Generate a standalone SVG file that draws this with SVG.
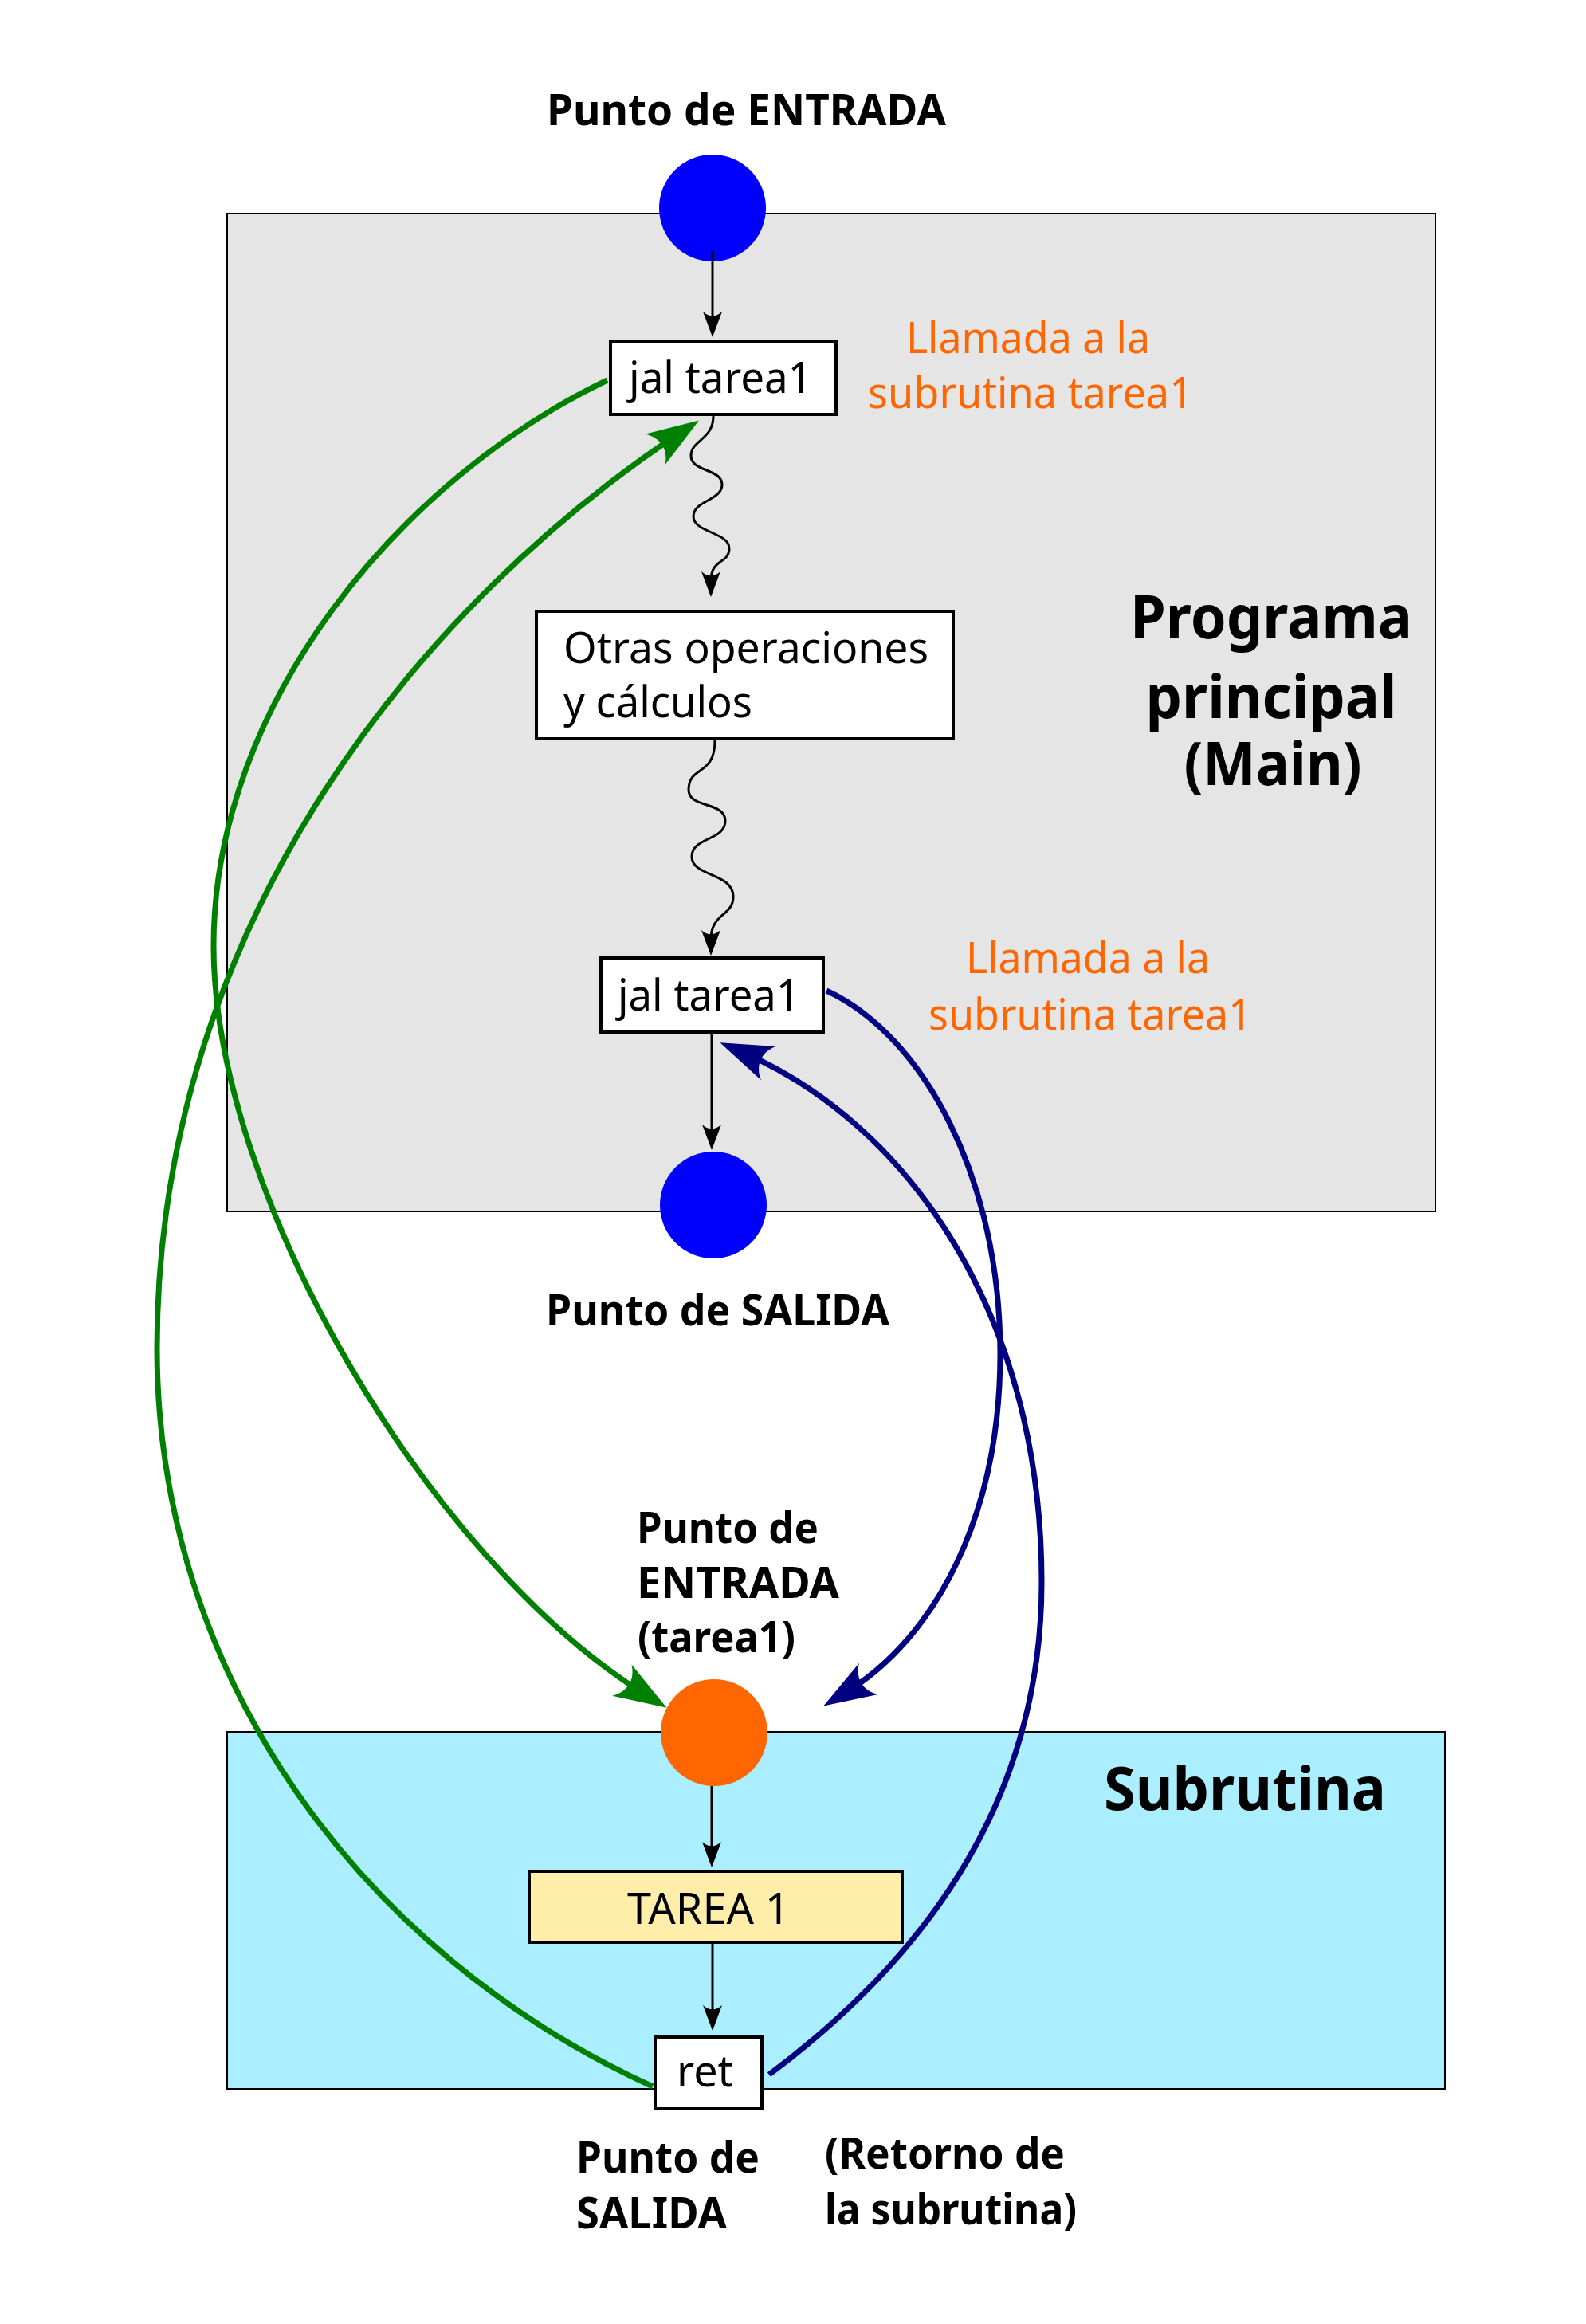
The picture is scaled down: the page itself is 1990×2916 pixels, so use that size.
<svg xmlns="http://www.w3.org/2000/svg" width="1990" height="2916" viewBox="0 0 1990 2916">
<style>
.t{font-family:"Noto Sans","Open Sans","DejaVu Sans",sans-serif;font-size:54px;fill:#000}
.b{font-weight:bold}
.o{fill:#ff6600}
.big{font-size:76px;font-weight:bold}
.box{stroke:#000;stroke-width:4}
.k{fill:none;stroke:#000;stroke-width:3}
.g{fill:none;stroke:#008000;stroke-width:7}
.n{fill:none;stroke:#000080;stroke-width:7}
</style>
<defs>
<marker id="ak" markerUnits="userSpaceOnUse" orient="auto" refX="0" refY="0" markerWidth="60" markerHeight="60" overflow="visible">
<path d="M20 0 L-12 -12 C-5 -5 -5 5 -12 12 Z" fill="#000"/>
</marker>
<marker id="ag" markerUnits="userSpaceOnUse" orient="auto" refX="0" refY="0" markerWidth="120" markerHeight="120" overflow="visible">
<path d="M30 0 L-36 -23 C-22 -9 -22 9 -36 23 Z" fill="#008000"/>
</marker>
<marker id="an" markerUnits="userSpaceOnUse" orient="auto" refX="0" refY="0" markerWidth="120" markerHeight="120" overflow="visible">
<path d="M30 0 L-36 -23 C-22 -9 -22 9 -36 23 Z" fill="#000080"/>
</marker>
</defs>
<g id="main-area">
<rect x="285" y="268" width="1516" height="1252" fill="#e5e5e5" stroke="#000" stroke-width="2"/>
<text class="t big" x="1595" y="801" text-anchor="middle" textLength="354" lengthAdjust="spacingAndGlyphs">Programa</text>
<text class="t big" x="1595" y="901" text-anchor="middle" textLength="315" lengthAdjust="spacingAndGlyphs">principal</text>
<text class="t big" x="1597" y="985" text-anchor="middle" textLength="223" lengthAdjust="spacingAndGlyphs">(Main)</text>
</g>
<g id="sub-area">
<rect x="285" y="2173" width="1528" height="448" fill="#aaeeff" stroke="#000" stroke-width="2"/>
<text class="t big" x="1385" y="2271" textLength="354" lengthAdjust="spacingAndGlyphs">Subrutina</text>
</g>
<g id="entry">
<text class="t b" x="686" y="157" textLength="501" lengthAdjust="spacingAndGlyphs">Punto de ENTRADA</text>
<circle cx="894" cy="261" r="67" fill="#0000ff"/>
</g>
<g id="jal1">
<rect class="box" x="766" y="428" width="283" height="92" fill="#fff"/>
<text class="t" x="789" y="493" textLength="230" lengthAdjust="spacingAndGlyphs">jal tarea1</text>
<text class="t o" x="1137" y="443" textLength="306" lengthAdjust="spacingAndGlyphs">Llamada a la</text>
<text class="t o" x="1089" y="512" textLength="408" lengthAdjust="spacingAndGlyphs">subrutina tarea1</text>
</g>
<g id="otras">
<rect class="box" x="673" y="767" width="523" height="160" fill="#fff"/>
<text class="t" x="707" y="832" textLength="458" lengthAdjust="spacingAndGlyphs">Otras operaciones</text>
<text class="t" x="707" y="900" textLength="237" lengthAdjust="spacingAndGlyphs">y cálculos</text>
</g>
<g id="jal2">
<rect class="box" x="754" y="1202" width="279" height="93" fill="#fff"/>
<text class="t" x="775" y="1268" textLength="229" lengthAdjust="spacingAndGlyphs">jal tarea1</text>
<text class="t o" x="1212" y="1221" textLength="306" lengthAdjust="spacingAndGlyphs">Llamada a la</text>
<text class="t o" x="1165" y="1292" textLength="406" lengthAdjust="spacingAndGlyphs">subrutina tarea1</text>
</g>
<g id="exit">
<circle cx="895" cy="1512" r="67" fill="#0000ff"/>
<text class="t b" x="685" y="1663" textLength="431" lengthAdjust="spacingAndGlyphs">Punto de SALIDA</text>
</g>
<g id="sub-entry">
<text class="t b" x="799" y="1936" textLength="228" lengthAdjust="spacingAndGlyphs">Punto de</text>
<text class="t b" x="799" y="2005" textLength="254" lengthAdjust="spacingAndGlyphs">ENTRADA</text>
<text class="t b" x="800" y="2073" textLength="198" lengthAdjust="spacingAndGlyphs">(tarea1)</text>
<circle cx="896" cy="2174" r="67" fill="#ff6600"/>
</g>
<g id="tarea">
<rect class="box" x="664" y="2348" width="468" height="89" fill="#ffeeaa"/>
<text class="t" x="787" y="2414" textLength="204" lengthAdjust="spacingAndGlyphs">TAREA 1</text>
</g>
<g id="ret">
<rect class="box" x="822" y="2556" width="134" height="90" fill="#fff"/>
<text class="t" x="849" y="2618" textLength="71" lengthAdjust="spacingAndGlyphs">ret</text>
<text class="t b" x="723" y="2726" textLength="230" lengthAdjust="spacingAndGlyphs">Punto de</text>
<text class="t b" x="723" y="2796" textLength="189" lengthAdjust="spacingAndGlyphs">SALIDA</text>
<text class="t b" x="1035" y="2721" textLength="301" lengthAdjust="spacingAndGlyphs">(Retorno de</text>
<text class="t b" x="1035" y="2791" textLength="316" lengthAdjust="spacingAndGlyphs">la subrutina)</text>
</g>
<g id="connectors">
<path class="k" d="M894 315 L894 403" marker-end="url(#ak)"/>
<path class="k" d="M895 522 C895 552 867 552 867 572 C867 592 906 588 906 608 C906 628 870 628 870 648 C870 668 915 668 915 688 C915 708 892 700 892 729" marker-end="url(#ak)"/>
<path class="k" d="M897 929 C897 975 864 960 864 991 C864 1015 910 1005 910 1030 C910 1055 868 1050 868 1075 C868 1100 920 1095 920 1125 C920 1150 892 1145 892 1179" marker-end="url(#ak)"/>
<path class="k" d="M893 1297 L893 1423" marker-end="url(#ak)"/>
<path class="k" d="M893 2241 L893 2323" marker-end="url(#ak)"/>
<path class="k" d="M894 2439 L894 2528" marker-end="url(#ak)"/>
<path class="g" d="M762 477 C505 600 268 880 268 1187 C268 1500 540 1960 811 2127" marker-end="url(#ag)"/>
<path class="g" d="M819 2618 C450 2450 197 2100 197 1692 C197 1150 540 750 852 544" marker-end="url(#ag)"/>
<path class="n" d="M1037 1243 C1160 1300 1255 1480 1255 1698 C1255 1900 1175 2055 1059 2125" marker-end="url(#an)"/>
<path class="n" d="M965 2603 C1170 2450 1307 2250 1307 1985 C1307 1650 1140 1410 931 1320" marker-end="url(#an)"/>
</g>
</svg>
